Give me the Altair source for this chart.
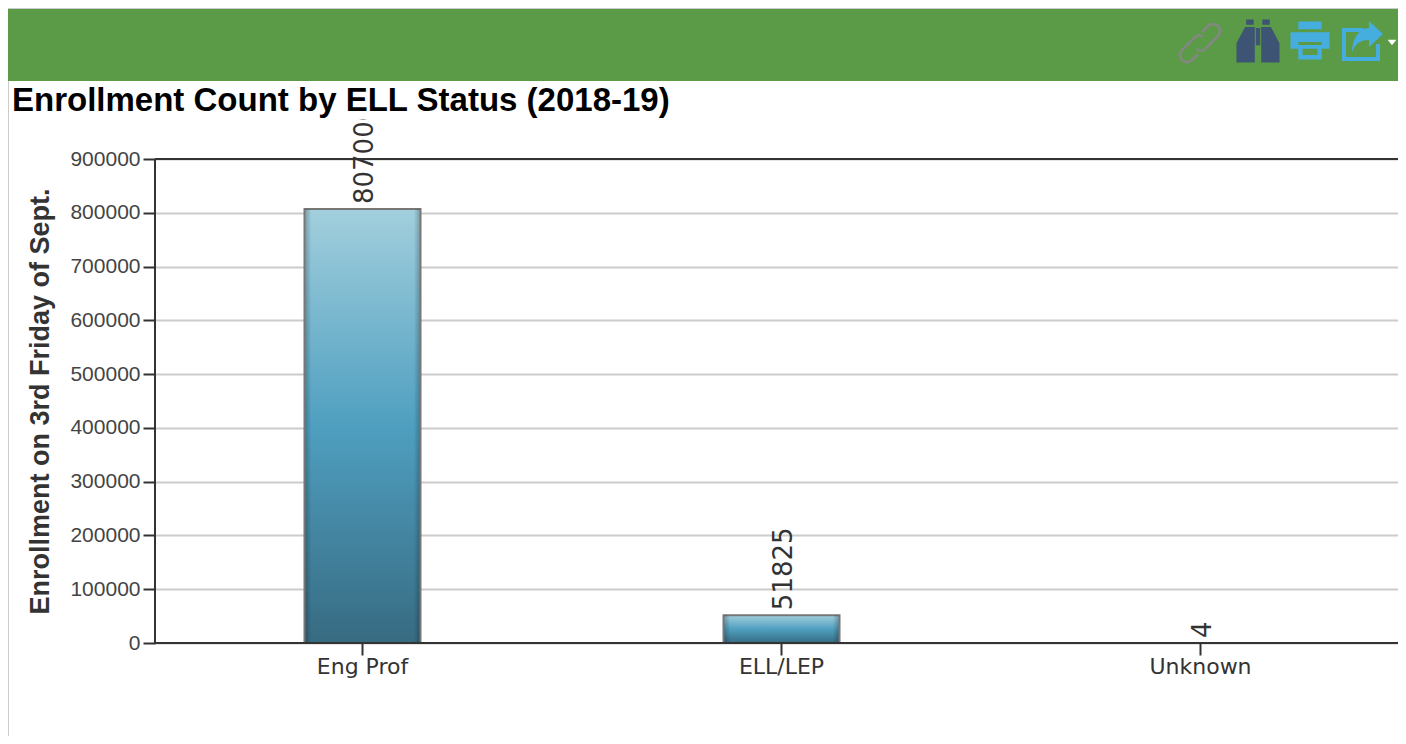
import altair as alt
import pandas as pd

categories = ["Eng Prof", "ELL/LEP", "Unknown"]
values = [807000, 51825, 4]
y_ticks = [0, 100000, 200000, 300000, 400000, 500000, 600000, 700000, 800000, 900000]
title_text = "Enrollment Count by ELL Status (2018-19)"
y_title = "Enrollment on 3rd Friday of Sept."

W, H = 1243, 484
df = pd.DataFrame({"cat": categories, "val": values})
one = pd.DataFrame({"a": [0]})

x_scale = alt.Scale(type="band", range=[-2, 1255], paddingInner=0, paddingOuter=0)
x_enc = alt.X("cat:N", sort=categories, scale=x_scale,
              axis=alt.Axis(title=None, labelAngle=0, domain=False, grid=False, tickSize=12, tickWidth=2,
                            tickColor="#333333", labelFont="DejaVu Sans", labelFontSize=22,
                            labelColor="#333333", labelPadding=1))
y_enc = alt.Y("val:Q", scale=alt.Scale(domain=[0, 900000], nice=False),
              axis=alt.Axis(values=y_ticks, title=y_title, titleFont="Liberation Sans", titleFontSize=27,
                            titleFontWeight="bold", titleColor="#333333", titleX=-101, titlePadding=0,
                            labelFont="Liberation Sans", labelFontSize=21, labelColor="#444444", labelPadding=3,
                            format="d", domain=False, tickSize=12, tickWidth=2, tickColor="#333333",
                            grid=True, gridColor="#cccccc", gridWidth=2, labelOverlap=False))

base = alt.Chart(df)
grad = alt.Gradient(gradient="linear", x1=0, y1=0, x2=0, y2=1, stops=[
    alt.GradientStop(color="#a2cfdd", offset=0),
    alt.GradientStop(color="#4f9fc0", offset=0.5),
    alt.GradientStop(color="#376b82", offset=1)])
edge = alt.Gradient(gradient="linear", x1=0, y1=0, x2=1, y2=0, stops=[
    alt.GradientStop(color="rgba(0,0,0,0.22)", offset=0),
    alt.GradientStop(color="rgba(0,0,0,0)", offset=0.05),
    alt.GradientStop(color="rgba(0,0,0,0)", offset=0.95),
    alt.GradientStop(color="rgba(0,0,0,0.22)", offset=1)])
bars = base.mark_bar(size=116, color=grad, stroke="#777777", strokeWidth=2).encode(x=x_enc, y=y_enc)
bevel = base.mark_bar(size=114, color=edge).encode(x=alt.X("cat:N", sort=categories), y=alt.Y("val:Q"))

labels = base.mark_text(angle=270, align="left", baseline="middle", font="DejaVu Sans", fontSize=26,
                        color="#333333", dx=5, dy=2).encode(x=alt.X("cat:N", sort=categories), y=alt.Y("val:Q"), text="val:Q")

axis_y0 = alt.Chart(one).mark_rule(color="#333333", strokeWidth=2).encode(x=alt.value(0), x2=alt.value(W), y=alt.value(H))
axis_top = alt.Chart(one).mark_rule(color="#333333", strokeWidth=2).encode(x=alt.value(0), x2=alt.value(W), y=alt.value(0))
axis_left = alt.Chart(one).mark_rule(color="#333333", strokeWidth=2).encode(x=alt.value(0), y=alt.value(0), y2=alt.value(H))

mask = alt.Chart(one).mark_rect(color="white").encode(x=alt.value(-145), x2=alt.value(W), y=alt.value(-78), y2=alt.value(-40))
banner = alt.Chart(one).mark_rect(color="#5b9a46").encode(x=alt.value(-147), x2=alt.value(W), y=alt.value(-150), y2=alt.value(-78))
border = alt.Chart(one).mark_rule(color="#cccccc", strokeWidth=2).encode(x=alt.value(-147), y=alt.value(-78), y2=alt.value(577))
border_top = alt.Chart(one).mark_rule(color="#cccccc", strokeWidth=2).encode(x=alt.value(-147), x2=alt.value(W), y=alt.value(-151))
title_mark = alt.Chart(one).mark_text(text=title_text, align="left", baseline="alphabetic", font="Liberation Sans",
                                      fontSize=33, fontWeight="bold", color="#000000").encode(x=alt.value(-143), y=alt.value(-48))


def icon(path, px, py, size, color, filled=True, sw=3):
    m = alt.Chart(one).mark_point(shape=path, filled=filled, size=size, color=color, opacity=1,
                                  strokeWidth=sw if not filled else 0)
    return m.encode(x=alt.value(px - 155), y=alt.value(py - 159))


LINK = ("M-0.9 0.35 L-0.25 -0.3 A0.3 0.3 0 0 1 0.15 -0.3 M0.9 -0.35 L0.25 0.3 A0.3 0.3 0 0 1 -0.15 0.3 "
        "M-0.9 0.35 A0.35 0.35 0 0 0 -0.4 0.85 L-0.1 0.55 M0.9 -0.35 A0.35 0.35 0 0 0 0.4 -0.85 L0.1 -0.55")
BINO = ("M-0.55 -1 H-0.2 V-0.75 H-0.55 Z M0.2 -1 H0.55 V-0.75 H0.2 Z M-0.6 -0.65 H-0.15 V1 H-1 V0.1 Z "
        "M0.15 -0.65 H0.6 L1 0.1 V1 H0.15 Z M-0.1 -0.6 H0.1 V0.2 H-0.1 Z")
PRINT = ("M-0.6 -1 H0.6 V-0.6 H-0.6 Z M-1 -0.45 H1 V0.4 H0.6 V0.05 H-0.6 V0.4 H-1 Z "
         "M-0.6 0.2 H0.6 V0.95 H-0.6 Z M-0.38 0.4 V0.72 H0.38 V0.4 Z")
SHARE = ("M-1 -0.65 H0.05 V-0.45 H-0.8 V0.8 H0.7 V0.15 H0.9 V1 H-1 Z "
         "M0.35 -1 L1.05 -0.35 L0.35 0.3 V-0.05 C-0.1 -0.05 -0.35 0.15 -0.5 0.55 C-0.5 0 -0.2 -0.65 0.35 -0.65 Z")
CARET = "M-1 -0.5 H1 L0 0.7 Z"

icons = [
    icon(LINK, 1200, 43, 1600, "#7f8a7c", filled=False, sw=3),
    icon(BINO, 1258, 41, 1850, "#3d5474"),
    icon(PRINT, 1310, 41, 1520, "#45aede"),
    icon(SHARE, 1362, 41, 1600, "#45aede"),
    icon(CARET, 1392, 42, 80, "#ffffff"),
]

chart = alt.layer(axis_left, bars, bevel, labels, axis_y0, axis_top, mask, title_mark, banner, border, border_top, *icons).properties(
    width=W, height=H,
    autosize=alt.AutoSizeParams(type="none"),
    padding={"left": 147, "top": 151, "right": 0, "bottom": 93},
).configure_view(stroke=None).configure_axis(grid=False)

chart.save("out.html", embed_options={"renderer": "svg", "actions": False})
